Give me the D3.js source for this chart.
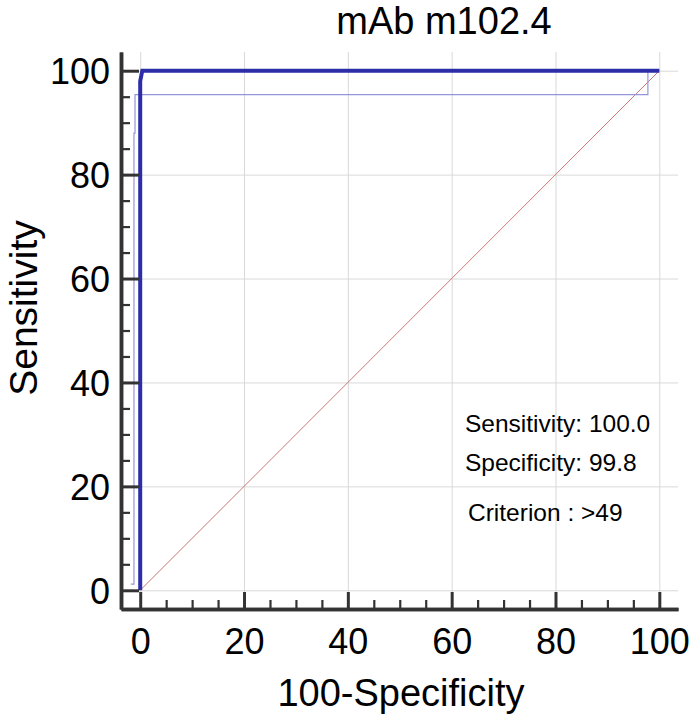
<!DOCTYPE html>
<html><head><meta charset="utf-8">
<script src="https://cdn.jsdelivr.net/npm/d3@7"></script>
<style>
body{margin:0;background:#fff;}
text{font-family:"Liberation Sans",Arial,sans-serif;fill:#000;}
</style></head>
<body><svg id="c" width="698" height="725"></svg>
<script>
const title = "mAb m102.4";
const xLabel = "100-Specificity";
const yLabel = "Sensitivity";
const majorTicks = [0, 20, 40, 60, 80, 100];
const minorTicks = [5, 10, 15, 25, 30, 35, 45, 50, 55, 65, 70, 75, 85, 90, 95];
// main ROC curve (100-Specificity, Sensitivity)
const rocX = [0, 0, 0.4, 100];
const rocY = [0, 98, 100, 100];
// thin lower bound curve
const ciX = [-1.8, -1.2, -1.2, -1.0, -1.0, 97.8, 97.8, 100];
const ciY = [1.2, 1.2, 88, 88, 95.4, 95.4, 100, 100];
// reference diagonal
const diagX = [0, 100];
const diagY = [0, 100];
const notes = ["Sensitivity: 100.0", "Specificity: 99.8", "Criterion : >49"];

const svg = d3.select("#c");
const x = d3.scaleLinear().domain([-3.7, 103.6]).range([121, 678]);
const y = d3.scaleLinear().domain([-3.6, 103.6]).range([609, 52]);

// grid
svg.append("g").attr("transform","translate(0,609)")
  .call(d3.axisBottom(x).tickValues(majorTicks).tickSize(-(609-52)).tickFormat(""))
  .call(g=>{g.select(".domain").remove();g.selectAll("line").attr("stroke","#d9d9d9").attr("stroke-width",1);});
svg.append("g").attr("transform","translate(121,0)")
  .call(d3.axisLeft(y).tickValues(majorTicks).tickSize(-(678-121)).tickFormat(""))
  .call(g=>{g.select(".domain").remove();g.selectAll("line").attr("stroke","#d9d9d9").attr("stroke-width",1);});

const line = d3.line().x(d=>x(d[0])).y(d=>y(d[1])).curve(d3.curveLinear);

svg.append("path").datum(diagX.map((v,i)=>[v,diagY[i]]))
  .attr("d",line).attr("fill","none").attr("stroke","#cc7777").attr("stroke-width",1);
svg.append("path").datum(ciX.map((v,i)=>[v,ciY[i]]))
  .attr("d",line).attr("fill","none").attr("stroke","#9595dd").attr("stroke-width",1.2);
svg.append("path").datum(rocX.map((v,i)=>[v,rocY[i]]))
  .attr("d",line).attr("fill","none").attr("stroke","#2d2da8").attr("stroke-width",4);

// axes
function styleAxis(g,w){
  g.select(".domain").attr("stroke","#333").attr("stroke-width",3.5);
  g.selectAll(".tick line").attr("stroke","#333").attr("stroke-width",w);
}
svg.append("g").attr("transform","translate(0,609)")
  .call(d3.axisBottom(x).tickValues(minorTicks).tickSize(-9).tickSizeOuter(0).tickFormat(""))
  .call(g=>styleAxis(g,2.2));
svg.append("g").attr("transform","translate(0,609)")
  .call(d3.axisBottom(x).tickValues(majorTicks).tickSize(-17).tickSizeOuter(0).tickPadding(0))
  .call(g=>{styleAxis(g,3);g.selectAll("text").attr("font-size",36).attr("font-family","Liberation Sans, Arial").attr("dy",null).attr("y",45).attr("fill","#000");});
svg.append("g").attr("transform","translate(121,0)")
  .call(d3.axisLeft(y).tickValues(minorTicks).tickSize(-9).tickSizeOuter(0).tickFormat(""))
  .call(g=>styleAxis(g,2.2));
svg.append("g").attr("transform","translate(121,0)")
  .call(d3.axisLeft(y).tickValues(majorTicks).tickSize(-18).tickSizeOuter(0))
  .call(g=>{styleAxis(g,3);g.selectAll("text").attr("font-size",36).attr("font-family","Liberation Sans, Arial").attr("x",-11).attr("dy","0.36em").attr("fill","#000");});

// titles
svg.append("text").attr("x",444).attr("y",34).attr("text-anchor","middle").attr("font-size",38).text(title);
svg.append("text").attr("x",401).attr("y",706).attr("text-anchor","middle").attr("font-size",38).text(xLabel);
svg.append("text").attr("transform","translate(37,308) rotate(-90)").attr("text-anchor","middle").attr("font-size",39).text(yLabel);

// annotations
const noteX = [465, 465, 468];
const noteY = [432, 471, 521];
notes.forEach((t,i)=>svg.append("text").attr("x",noteX[i]).attr("y",noteY[i]).attr("font-size",24.5).text(t));
</script></body></html>
